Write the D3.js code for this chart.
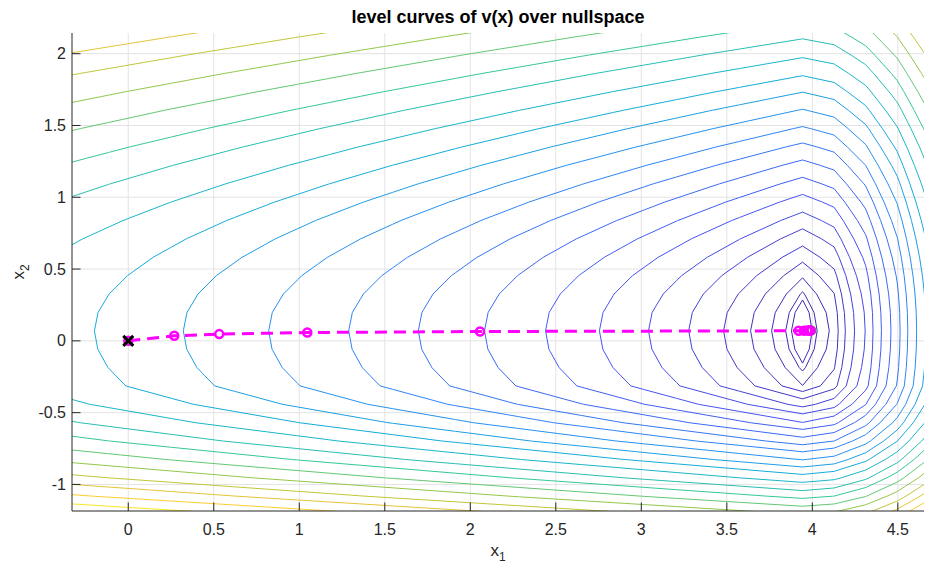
<!DOCTYPE html>
<html>
<head>
<meta charset="utf-8">
<script src="https://cdn.jsdelivr.net/npm/d3@7"></script>
<style>
    body { margin: 0; background: #fff; }
    text { font-family: "Liberation Sans", Arial, Helvetica, sans-serif; fill: #262626; }
</style>
</head>
<body>
<div id="chart"></div>
<script>
// iterates of the method
const iterX1 = [0, 0.269, 0.532, 1.047, 2.057, 3.92, 3.95, 3.97, 3.98, 3.985, 3.99]
const iterX2 = [0, 0.035, 0.047, 0.058, 0.065, 0.070, 0.071, 0.072, 0.072, 0.072, 0.072]
const startPoint = [0, 0]
const endPoint = [3.995, 0.072]

// contour levels of v (not evenly spaced)
const levels = [0.089, 0.123, 0.205, 0.328, 0.486, 0.690, 0.925, 1.212, 1.527, 1.884, 2.271,
    2.678, 3.146, 3.645, 4.165, 4.771, 5.446, 6.109, 6.847, 7.617, 8.46, 9.213, 10.05, 10.9]

const xTicks = [0, 0.5, 1, 1.5, 2, 2.5, 3, 3.5, 4, 4.5]
const yTicks = [-1, -0.5, 0, 0.5, 1, 1.5, 2]
const xLimits = [-0.329, 4.653]
const yLimits = [-1.185, 2.144]

const colorKnots = [0, 0.93, 4.16, 10.9]
const colorFrac = [0.0, 0.12, 0.41, 0.95]

// parula(8)
const parula = ["#3e26a8", "#4752f4", "#2d87f7", "#11b1d6", "#37c897", "#abc739", "#fec338", "#f9fb14"]

// v(x) over the nullspace, sampled on a coarse mesh like the original
const xStar = 3.943, yStar = 0.07
function v(x1, x2) {
    const d = x1 - xStar
    let xt
    if (d <= 0) xt = -d
    else {
        const r = Math.max(0.95 * Math.sqrt(d), 2.67 * d - 0.03)
        xt = r * r
    }
    const dy = x2 - yStar
    const yt = dy >= 0 ? 1.145 * dy : Math.max(-1.1 * dy, -2.6 * dy - 0.57)
    return xt + yt * yt + 0.024
}
const hx = 0.1845, hy = 0.128
const gridX0 = xStar - 25 * hx, gridY0 = yStar - 11 * hy
const nx = 31, ny = 30
const values = new Array(nx * ny)
for (let j = 0; j < ny; j++) {
    for (let i = 0; i < nx; i++) {
        values[i + j * nx] = v(gridX0 + i * hx, gridY0 + j * hy)
    }
}

const width = 925, height = 565
const margin = { left: 72, right: 1, top: 33, bottom: 54 }

const svg = d3.select("#chart").append("svg")
    .attr("width", width)
    .attr("height", height)

const x = d3.scaleLinear().domain(xLimits).range([margin.left, width - margin.right])
const y = d3.scaleLinear().domain(yLimits).range([height - margin.bottom, margin.top])

const frac = d3.scaleLinear().domain(colorKnots).range(colorFrac).clamp(true)
const cmap = d3.scaleLinear()
    .domain(parula.map((c, i) => i / (parula.length - 1)))
    .range(parula)
    .interpolate(d3.interpolateRgb)
const color = z => cmap(frac(z))

svg.append("defs").append("clipPath")
    .attr("id", "plotclip")
    .append("rect")
    .attr("x", x.range()[0])
    .attr("y", y.range()[1])
    .attr("width", x.range()[1] - x.range()[0])
    .attr("height", y.range()[0] - y.range()[1])

// grid
const grid = svg.append("g").attr("class", "grid")
grid.selectAll("line.gx")
    .data(xTicks)
    .enter().append("line")
    .attr("x1", d => x(d)).attr("x2", d => x(d))
    .attr("y1", y.range()[1]).attr("y2", y.range()[0])
    .attr("stroke", "#e3e3e3")
grid.selectAll("line.gy")
    .data(yTicks)
    .enter().append("line")
    .attr("x1", x.range()[0]).attr("x2", x.range()[1])
    .attr("y1", d => y(d)).attr("y2", d => y(d))
    .attr("stroke", "#e3e3e3")

// contour lines
const contours = d3.contours().size([nx, ny]).thresholds(levels)(values)
const toPlot = d3.geoTransform({
    point(cx, cy) {
        this.stream.point(x(gridX0 + (cx - 0.5) * hx), y(gridY0 + (cy - 0.5) * hy))
    }
})
const path = d3.geoPath(toPlot)

svg.append("g")
    .attr("clip-path", "url(#plotclip)")
    .selectAll("path")
    .data(contours)
    .enter().append("path")
    .attr("d", path)
    .attr("fill", "none")
    .attr("stroke", d => color(d.value))
    .attr("stroke-width", 1)

// iterates
const marks = svg.append("g").attr("clip-path", "url(#plotclip)")
const pts = iterX1.map((d, i) => [d, iterX2[i]])

marks.append("circle")
    .attr("cx", x(endPoint[0]))
    .attr("cy", y(endPoint[1]))
    .attr("r", 4)
    .attr("fill", "none")
    .attr("stroke", "#00e000")
    .attr("stroke-width", 2)

marks.append("path")
    .attr("d", d3.line().x(d => x(d[0])).y(d => y(d[1]))(pts))
    .attr("fill", "none")
    .attr("stroke", "#ff00ff")
    .attr("stroke-width", 3)
    .attr("stroke-dasharray", "12,7")

marks.selectAll("circle.it")
    .data(pts)
    .enter().append("circle")
    .attr("class", "it")
    .attr("cx", d => x(d[0]))
    .attr("cy", d => y(d[1]))
    .attr("r", 4)
    .attr("fill", "none")
    .attr("stroke", "#ff00ff")
    .attr("stroke-width", 2.5)

const sx = x(startPoint[0]), sy = y(startPoint[1]), s = 5
marks.append("path")
    .attr("d", `M${sx - s},${sy - s}L${sx + s},${sy + s}M${sx - s},${sy + s}L${sx + s},${sy - s}`)
    .attr("stroke", "#000")
    .attr("stroke-width", 3)

// axes (left and bottom only, ticks inward)
const axes = svg.append("g")
axes.append("line")
    .attr("x1", x.range()[0]).attr("x2", x.range()[0])
    .attr("y1", y.range()[1]).attr("y2", y.range()[0])
    .attr("stroke", "#262626")
axes.append("line")
    .attr("x1", x.range()[0]).attr("x2", x.range()[1])
    .attr("y1", y.range()[0]).attr("y2", y.range()[0])
    .attr("stroke", "#262626")

axes.selectAll("line.tx")
    .data(xTicks)
    .enter().append("line")
    .attr("x1", d => x(d)).attr("x2", d => x(d))
    .attr("y1", y.range()[0]).attr("y2", y.range()[0] - 8.5)
    .attr("stroke", "#262626")
axes.selectAll("line.ty")
    .data(yTicks)
    .enter().append("line")
    .attr("x1", x.range()[0]).attr("x2", x.range()[0] + 8.5)
    .attr("y1", d => y(d)).attr("y2", d => y(d))
    .attr("stroke", "#262626")

axes.selectAll("text.tx")
    .data(xTicks)
    .enter().append("text")
    .attr("x", d => x(d))
    .attr("y", 535)
    .attr("text-anchor", "middle")
    .style("font-size", "16px")
    .text(d => String(d))
axes.selectAll("text.ty")
    .data(yTicks)
    .enter().append("text")
    .attr("x", 66)
    .attr("y", d => y(d))
    .attr("dy", "0.35em")
    .attr("text-anchor", "end")
    .style("font-size", "16px")
    .text(d => String(d))

// labels
const xl = svg.append("text")
    .attr("x", (x.range()[0] + x.range()[1]) / 2)
    .attr("y", 556)
    .attr("text-anchor", "middle")
    .style("font-size", "17px")
xl.append("tspan").text("x")
xl.append("tspan").attr("dy", 5).style("font-size", "12px").text("1")

const yl = svg.append("text")
    .attr("transform", `translate(24,${(y.range()[0] + y.range()[1]) / 2}) rotate(-90)`)
    .attr("text-anchor", "middle")
    .style("font-size", "17px")
yl.append("tspan").text("x")
yl.append("tspan").attr("dy", 5).style("font-size", "12px").text("2")

svg.append("text")
    .attr("x", (x.range()[0] + x.range()[1]) / 2)
    .attr("y", 23)
    .attr("text-anchor", "middle")
    .style("font-size", "18px")
    .style("font-weight", "bold")
    .style("fill", "#000")
    .text("level curves of v(x) over nullspace")
</script>
</body>
</html>
